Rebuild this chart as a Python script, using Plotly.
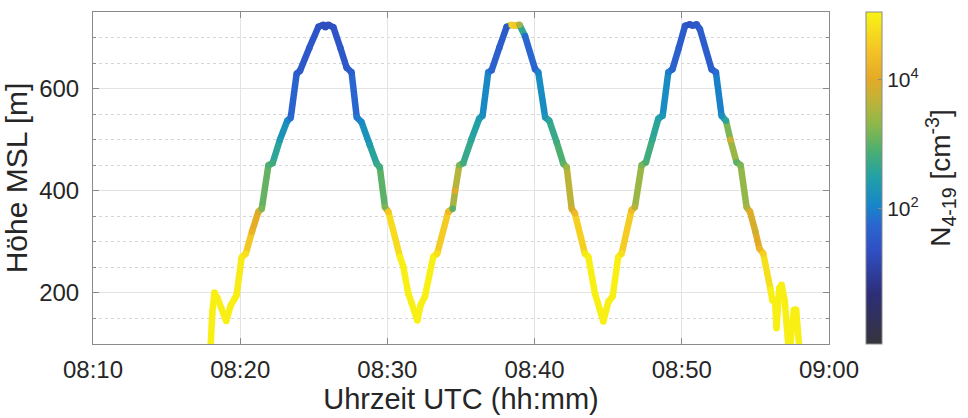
import plotly.graph_objects as go
from plotly.colors import sample_colorscale

# ---------------- data ----------------
times = [
    "08:18:00", "08:18:06", "08:18:15", "08:18:27", "08:19:03", "08:19:21", "08:19:36", "08:19:45",
    "08:20:06", "08:20:23", "08:20:48", "08:21:14", "08:21:28", "08:21:55", "08:22:12", "08:22:42",
    "08:23:12", "08:23:26", "08:23:50", "08:24:04", "08:24:42", "08:25:19", "08:25:39", "08:25:47",
    "08:25:59", "08:26:20", "08:26:48", "08:27:14", "08:27:34", "08:27:55", "08:28:15", "08:28:48",
    "08:29:16", "08:29:29", "08:29:50", "08:30:04", "08:30:51", "08:31:05", "08:31:25", "08:31:39",
    "08:32:02", "08:32:16", "08:32:33", "08:33:07", "08:33:23", "08:34:08", "08:34:26", "08:34:36",
    "08:34:53", "08:35:09", "08:35:42", "08:36:14", "08:36:28", "08:36:51", "08:37:05", "08:37:36",
    "08:38:06", "08:38:26", "08:38:40", "08:38:58", "08:39:21", "08:40:02", "08:40:15", "08:40:43",
    "08:41:00", "08:41:30", "08:41:57", "08:42:11", "08:42:31", "08:42:44", "08:43:25", "08:43:39",
    "08:44:06", "08:44:26", "08:44:40", "08:45:01", "08:45:18", "08:45:41", "08:45:55", "08:46:35",
    "08:46:49", "08:47:16", "08:47:34", "08:48:00", "08:48:24", "08:48:42", "08:49:05", "08:49:22",
    "08:49:48", "08:50:13", "08:50:33", "08:50:44", "08:51:00", "08:51:14", "08:52:01", "08:52:19",
    "08:52:42", "08:53:00", "08:53:18", "08:53:43", "08:54:00", "08:54:24", "08:54:38", "08:55:00",
    "08:55:16", "08:55:32", "08:56:02", "08:56:09", "08:56:20", "08:56:26", "08:56:37", "08:56:47",
    "08:57:00", "08:57:14", "08:57:23", "08:57:37", "08:57:46", "08:57:58",
]
altitude_m = [
    100, 160, 201, 190, 145, 175, 188, 195,
    270, 277, 320, 359, 365, 450, 454, 500,
    537, 543, 629, 635, 680, 721, 725, 720,
    725, 720, 680, 641, 632, 544, 534, 490,
    453, 446, 368, 359, 271, 251, 199, 180,
    146, 177, 193, 271, 277, 359, 365, 400,
    450, 454, 500, 541, 547, 632, 636, 680,
    721, 725, 723, 725, 703, 638, 632, 544,
    537, 495, 453, 446, 365, 356, 277, 271,
    199, 167, 144, 183, 193, 271, 277, 362,
    368, 450, 456, 500, 541, 547, 632, 638,
    680, 723, 726, 723, 726, 716, 638, 632,
    547, 537, 500, 456, 450, 368, 359, 320,
    287, 277, 206, 185, 186, 131, 209, 216,
    183, 98, 102, 167, 167, 98,
]
log10_n = [
    5.0, 5.0, 5.0, 5.0, 5.0, 5.0, 5.0, 5.0,
    4.9, 4.8, 4.2, 3.9, 3.2, 2.9, 2.8, 2.4,
    2.1, 1.8, 1.6, 1.5, 1.5, 1.4, 1.3, 1.3,
    1.3, 1.4, 1.5, 1.5, 1.6, 1.9, 2.1, 2.4,
    2.7, 2.8, 3.2, 4.5, 5.0, 5.0, 5.0, 5.0,
    5.0, 5.0, 5.0, 5.0, 4.8, 4.3, 3.0, 4.0,
    3.2, 2.8, 2.6, 2.4, 2.2, 2.0, 1.7, 1.6,
    1.5, 4.6, 4.5, 3.5, 1.8, 1.7, 2.0, 2.3,
    2.6, 2.8, 3.0, 3.4, 3.9, 4.3, 4.9, 5.0,
    5.0, 5.0, 5.0, 5.0, 5.0, 5.0, 4.8, 4.3,
    3.6, 3.2, 2.9, 2.7, 2.5, 2.3, 2.0, 1.7,
    1.6, 1.5, 1.4, 1.5, 1.5, 1.6, 1.6, 1.8,
    2.2, 2.6, 3.8, 3.0, 3.2, 3.5, 4.0, 3.8,
    4.2, 4.6, 5.0, 5.0, 5.0, 5.0, 5.0, 5.0,
    5.0, 5.0, 5.0, 5.0, 5.0, 5.0,
]
cbar_tickvals = [2, 4]
cbar_ticktext = ["10<sup>2</sup>", "10<sup>4</sup>"]
day = "2019-07-01 "

# ---------------- style ----------------
cmin, cmax = -0.1, 5.05
colorscale = [
    [0.00, "#35343c"],
    [0.15, "#2d2e78"],
    [0.28, "#2f4fc4"],
    [0.36, "#2a66d0"],
    [0.42, "#1787c8"],
    [0.50, "#20a0a8"],
    [0.58, "#4aae72"],
    [0.66, "#8cb84a"],
    [0.74, "#c4b236"],
    [0.80, "#e4aa26"],
    [0.88, "#f4c226"],
    [1.00, "#f8f414"],
]
font_family = "Liberation Sans, Arial, sans-serif"
txt = "#262626"
axis_col = "#8a8a8a"

x = [day + t for t in times]

fig = go.Figure()
for i in range(len(x) - 1):
    v = 0.5 * (log10_n[i] + log10_n[i + 1])
    col = sample_colorscale(colorscale, [(v - cmin) / (cmax - cmin)])[0]
    fig.add_trace(go.Scatter(
        x=[x[i], x[i + 1]], y=[altitude_m[i], altitude_m[i + 1]],
        mode="lines", line=dict(color=col, width=6.5),
        showlegend=False, hoverinfo="skip"))

fig.add_trace(go.Scatter(
    x=x, y=altitude_m, mode="markers",
    marker=dict(size=6.5, color=log10_n, colorscale=colorscale, cmin=cmin, cmax=cmax,
                line=dict(width=0),
                colorbar=dict(
                    x=1.0503, xanchor="left", xpad=0, y=0.5, yanchor="middle", ypad=0,
                    len=1.0, lenmode="fraction", thickness=16,
                    outlinecolor=axis_col, outlinewidth=1,
                    tickvals=cbar_tickvals, ticktext=cbar_ticktext,
                    ticks="inside", ticklen=4, tickcolor=axis_col,
                    tickfont=dict(size=21, color=txt, family=font_family),
                    title=dict(text="N<sub>4-19</sub> [cm<sup>-3</sup>]", side="right",
                               font=dict(size=28, color=txt, family=font_family)),
                )),
    showlegend=False))

fig.update_layout(
    width=968, height=418,
    margin=dict(l=93, r=139, t=12, b=74, autoexpand=False),
    paper_bgcolor="white", plot_bgcolor="white",
    font=dict(family=font_family, color=txt),
    xaxis=dict(
        type="date",
        range=[day + "08:10:00", day + "09:00:00"],
        dtick=600000, tickformat="%H:%M",
        showgrid=True, gridcolor="#e3e3e3", gridwidth=1,
        showline=True, linecolor=axis_col, linewidth=1, mirror="ticks",
        ticks="inside", ticklen=6, tickcolor=axis_col,
        tickfont=dict(size=24, color=txt), ticklabelstandoff=4,
        title=dict(text="Uhrzeit UTC (hh:mm)", font=dict(size=29, color=txt), standoff=5),
        zeroline=False, automargin=False,
    ),
    yaxis=dict(
        range=[100, 750], dtick=200, tick0=0,
        showgrid=True, gridcolor="#e3e3e3", gridwidth=1,
        showline=True, linecolor=axis_col, linewidth=1, mirror="ticks",
        ticks="inside", ticklen=6, tickcolor=axis_col,
        tickfont=dict(size=24, color=txt), ticklabelstandoff=8,
        minor=dict(dtick=50, tick0=0, showgrid=True, gridcolor="#d6d6d6", griddash="dot",
                   ticks="inside", ticklen=3, tickcolor=axis_col),
        title=dict(text="Höhe MSL [m]", font=dict(size=30, color=txt), standoff=2),
        zeroline=False, automargin=False,
    ),
)

fig.write_html("out.html")
